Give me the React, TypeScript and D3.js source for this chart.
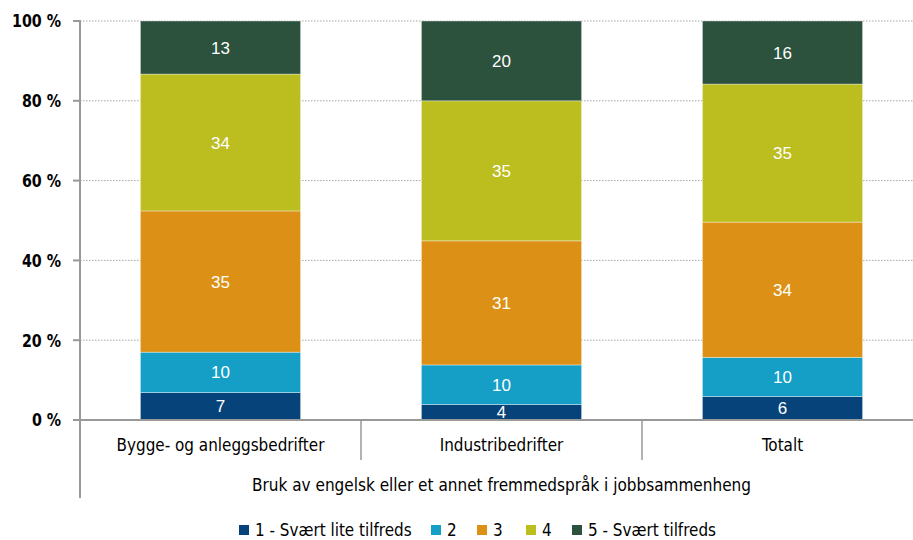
import React from "react";
import * as d3 from "d3";

const categories = ["Bygge- og anleggsbedrifter", "Industribedrifter", "Totalt"];
const seriesNames = ["1 - Svært lite tilfreds", "2", "3", "4", "5 - Svært tilfreds"];
const s1 = [6.9, 3.9, 5.9];
const s2 = [10.1, 9.9, 9.8];
const s3 = [35.4, 31.1, 33.9];
const s4 = [34.3, 35.1, 34.6];
const s5 = [13.3, 20.0, 15.8];
const labels1 = [7, 4, 6];
const labels2 = [10, 10, 10];
const labels3 = [35, 31, 34];
const labels4 = [34, 35, 35];
const labels5 = [13, 20, 16];
const colors = ["#06437a", "#159fc7", "#dc9116", "#bcbd1f", "#2c523e"];
const yTicks = [0, 20, 40, 60, 80, 100];
const axisTitle = "Bruk av engelsk eller et annet fremmedspråk i jobbsammenheng";

const W = 913;
const H = 540;
const left = 80;
const plotRight = 923;
const top = 21;
const bottom = 420;

const condFont = "'DejaVu Sans Condensed', 'Liberation Sans Narrow', 'Arial Narrow', sans-serif";
const sansFont = "'Liberation Sans', Arial, sans-serif";

function SText(props: { x: number; y: number; sx: number; anchor?: string; size: number; weight?: string; children: any }) {
  const { x, y, sx, anchor, size, weight, children } = props;
  return (
    <text
      transform={`translate(${x},${y}) scale(${sx},1)`}
      dy="0.36em"
      textAnchor={anchor || "start"}
      fontFamily={condFont}
      fontWeight={weight || "normal"}
      fontSize={size}
      fill="#000"
    >
      {children}
    </text>
  );
}

export default function App() {
  const series = [s1, s2, s3, s4, s5];
  const labels = [labels1, labels2, labels3, labels4, labels5];
  const rows = categories.map((c, i) => {
    const o: any = { cat: c };
    seriesNames.forEach((n, k) => (o[n] = series[k][i]));
    return o;
  });
  const stacked = d3.stack<any>().keys(seriesNames)(rows);

  const x = d3.scaleBand<string>().domain(categories).range([left, plotRight]).paddingInner(0.43).paddingOuter(0.215);
  const xc = d3.scaleBand<string>().domain(categories).range([left, plotRight]).padding(0);
  const y = d3.scaleLinear().domain([0, 100]).range([bottom, top]);

  const legendItems = [
    { x: 239, text: seriesNames[0] },
    { x: 431, text: seriesNames[1] },
    { x: 477, text: seriesNames[2] },
    { x: 526, text: seriesNames[3] },
    { x: 572, text: seriesNames[4] },
  ];

  return (
    <svg width={W} height={H} style={{ position: "absolute", left: 0, top: 0, background: "#fff" }}>
      {yTicks.filter((t) => t > 0).map((t) => (
        <line key={"g" + t} x1={left} x2={W} y1={y(t)} y2={y(t)} stroke="#a6a6a6" strokeWidth={1} strokeDasharray="1.5,1.5" />
      ))}
      {stacked.map((layer, k) => (
        <g key={layer.key}>
          {layer.map((d, i) => {
            const cat = categories[i];
            const y0 = y(d[0]);
            const y1 = y(d[1]);
            return (
              <g key={cat}>
                <rect x={x(cat)} y={y1} width={x.bandwidth()} height={y0 - y1} fill={colors[k]} stroke="#ffffff" strokeOpacity={0.45} strokeWidth={0.8} />
                <text
                  x={(x(cat) as number) + x.bandwidth() / 2}
                  y={(y0 + y1) / 2}
                  dy="0.36em"
                  textAnchor="middle"
                  fill="#fff"
                  fontFamily={sansFont}
                  fontSize={17}
                >
                  {labels[k][i]}
                </text>
              </g>
            );
          })}
        </g>
      ))}
      <line x1={left} x2={W} y1={bottom} y2={bottom} stroke="#999" strokeWidth={2} />
      {categories.slice(1).map((c) => (
        <line key={"s" + c} x1={xc(c)} x2={xc(c)} y1={bottom} y2={460} stroke="#999" strokeWidth={1.5} />
      ))}
      <line x1={left} x2={left} y1={top - 1} y2={498} stroke="#999" strokeWidth={2} />
      {yTicks.map((t) => (
        <g key={"t" + t}>
          <line x1={left - 7} x2={left} y1={y(t)} y2={y(t)} stroke="#999" strokeWidth={2} />
          <SText x={61} y={y(t)} sx={0.88} anchor="end" size={18} weight="bold">
            {t + " %"}
          </SText>
        </g>
      ))}
      {categories.map((c) => (
        <SText key={"c" + c} x={(xc(c) as number) + xc.bandwidth() / 2} y={445} sx={0.94} anchor="middle" size={18}>
          {c}
        </SText>
      ))}
      <SText x={(left + plotRight) / 2} y={485} sx={0.945} anchor="middle" size={18}>
        {axisTitle}
      </SText>
      {legendItems.map((it, k) => (
        <g key={"l" + k}>
          <rect x={it.x} y={525} width={10} height={10} fill={colors[k]} />
          <SText x={it.x + 16} y={530} sx={0.94} size={18}>
            {it.text}
          </SText>
        </g>
      ))}
    </svg>
  );
}
